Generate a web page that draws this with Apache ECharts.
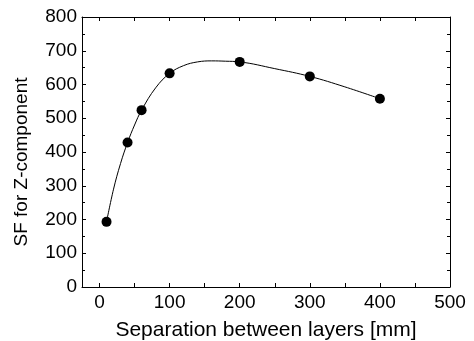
<!DOCTYPE html>
<html>
<head>
<meta charset="utf-8">
<script src="https://cdn.jsdelivr.net/npm/echarts@6/dist/echarts.min.js"></script>
<style>
  html, body { margin: 0; padding: 0; background: #fff; }
  #chart { width: 474px; height: 341px; }
</style>
</head>
<body>
<div id="chart"></div>
<script>
// measured points
const sepX = [10, 40, 60, 100, 200, 300, 400];
const sfZ = [193, 428, 524, 633, 667, 624, 558];

// fitted curve
const curveX = [10, 20, 30, 40, 50, 60, 80, 100, 120, 140, 160, 180, 200, 250, 300, 350, 400];
const curveY = [193, 290, 366, 428, 480, 524, 590, 633, 656, 667, 670, 669, 667, 647, 624, 593, 558];

// ticks
const xLabels = [0, 100, 200, 300, 400, 500];
const xTicks = [0, 50, 100, 150, 200, 250, 300, 350, 400, 450, 500];

const chart = echarts.init(document.getElementById('chart'));

const font = 'Liberation Sans, Arial, sans-serif';
const axisLine = { show: true, onZero: false, lineStyle: { color: '#000', width: 1 } };

const xBase = {
  type: 'value',
  min: -25,
  max: 500,
  axisLine: axisLine,
  axisTick: { inside: true, length: 4, customValues: xTicks, lineStyle: { color: '#000' } },
  splitLine: { show: false }
};

const yBase = {
  type: 'value',
  min: 0,
  max: 800,
  interval: 100,
  axisLine: axisLine,
  axisTick: { inside: true, length: 4, lineStyle: { color: '#000' } },
  minorTick: { show: true, splitNumber: 2, length: 3, lineStyle: { color: '#000' } },
  splitLine: { show: false }
};

const option = {
  animation: false,
  grid: { left: 82, right: 24, top: 17, bottom: 54, outerBoundsMode: 'none', containLabel: false },
  // y title sits a bit below the middle of the plot
  graphic: [{
    type: 'text',
    x: 22,
    y: 162,
    rotation: Math.PI / 2,
    style: {
      text: 'SF for Z-component',
      font: '19px Liberation Sans, Arial, sans-serif',
      fill: '#000',
      align: 'center',
      verticalAlign: 'middle'
    }
  }],
  xAxis: [
    Object.assign({}, xBase, {
      position: 'bottom',
      name: 'Separation between layers [mm]',
      nameLocation: 'middle',
      nameGap: 33,
      nameTextStyle: { fontFamily: font, fontSize: 21, color: '#000' },
      axisLabel: { customValues: xLabels, margin: 6, fontFamily: font, fontSize: 19, color: '#000' }
    }),
    Object.assign({}, xBase, { position: 'top', axisLabel: { show: false } })
  ],
  yAxis: [
    Object.assign({}, yBase, {
      position: 'left',
      axisLabel: { margin: 5, fontFamily: font, fontSize: 19, color: '#000' }
    }),
    Object.assign({}, yBase, { position: 'right', axisLabel: { show: false } })
  ],
  series: [
    {
      type: 'line',
      data: curveX.map((x, i) => [x, curveY[i]]),
      smooth: 0.4,
      showSymbol: false,
      lineStyle: { color: '#000', width: 1 },
      xAxisIndex: 0,
      yAxisIndex: 0
    },
    {
      type: 'scatter',
      data: sepX.map((x, i) => [x, sfZ[i]]),
      symbol: 'circle',
      symbolSize: 10,
      itemStyle: { color: '#000', opacity: 1 },
      xAxisIndex: 0,
      yAxisIndex: 0
    }
  ]
};

chart.setOption(option);
</script>
</body>
</html>
